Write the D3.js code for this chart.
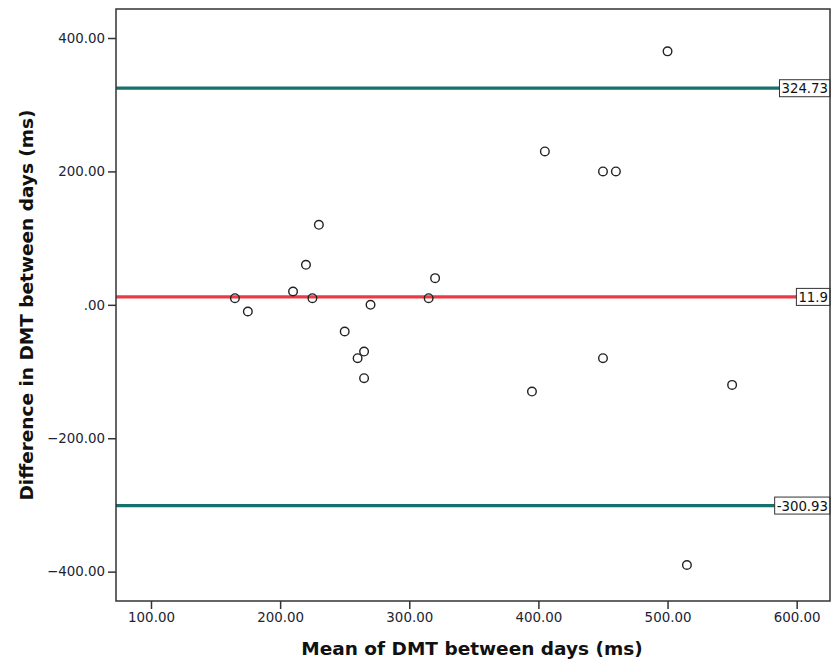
<!DOCTYPE html>
<html>
<head>
<meta charset="utf-8">
<script src="https://cdn.jsdelivr.net/npm/d3@7/dist/d3.min.js"></script>
<style>
  html, body { margin: 0; padding: 0; background: #fff; }
  svg { display: block; }
</style>
</head>
<body>
<svg id="chart" width="835" height="664"></svg>
<script>
// Bland-Altman data: mean of the two days (x) and difference between days (y), in ms
const meanValues = [165, 175, 210, 220, 225, 230, 250, 260, 265, 265, 270, 315, 320, 395, 405, 450, 460, 450, 500, 515, 550];
const diffValues = [10, -10, 20, 60, 10, 120, -40, -80, -70, -110, 0, 10, 40, -130, 230, 200, 200, -80, 380, -390, -120];

// Upper limit of agreement, mean difference, lower limit of agreement
const refValues = [324.73, 11.9, -300.93];
const refLabels = ["324.73", "11.9", "-300.93"];
const refColors = ["#17706c", "#ec3a44", "#17706c"];

const xTicks = [100, 200, 300, 400, 500, 600];
const xTickLabels = ["100.00", "200.00", "300.00", "400.00", "500.00", "600.00"];
const yTicks = [400, 200, 0, -200, -400];
const yTickLabels = ["400.00", "200.00", ".00", "\u2212200.00", "\u2212400.00"];

const xTitle = "Mean of DMT between days (ms)";
const yTitle = "Difference in DMT between days (ms)";

const svg = d3.select("#chart");
const plotLeft = 116, plotRight = 830, plotTop = 9, plotBottom = 601;

const x = d3.scaleLinear().domain([72.9, 625.8]).range([plotLeft, plotRight]);
const y = d3.scaleLinear().domain([-444, 443.5]).range([plotBottom, plotTop]);

const font = "'DejaVu Sans', Verdana, sans-serif";

// Reference lines
svg.append("g").selectAll("line")
  .data(refValues)
  .join("line")
  .attr("x1", plotLeft).attr("x2", plotRight)
  .attr("y1", d => y(d)).attr("y2", d => y(d))
  .attr("stroke", (d, i) => refColors[i])
  .attr("stroke-width", 3.2);

// Points
svg.append("g").selectAll("circle")
  .data(meanValues.map((m, i) => [m, diffValues[i]]))
  .join("circle")
  .attr("cx", d => x(d[0]))
  .attr("cy", d => y(d[1]))
  .attr("r", 4.3)
  .attr("fill", "none")
  .attr("stroke", "#222")
  .attr("stroke-width", 1.4);

// Value boxes at the right end of each reference line
const boxes = svg.append("g");
refValues.forEach((v, i) => {
  const g = boxes.append("g");
  const t = g.append("text")
    .attr("x", plotRight - 2)
    .attr("y", y(v) + 5)
    .attr("text-anchor", "end")
    .attr("font-family", font)
    .attr("font-size", 13.3)
    .attr("fill", "#111")
    .text(refLabels[i]);
  const bb = t.node().getBBox();
  g.insert("rect", "text")
    .attr("x", bb.x - 2)
    .attr("y", y(v) - 8.5)
    .attr("width", plotRight - (bb.x - 2))
    .attr("height", 17)
    .attr("fill", "#fff")
    .attr("stroke", "#333")
    .attr("stroke-width", 1);
});

// Frame
svg.append("rect")
  .attr("x", plotLeft).attr("y", plotTop)
  .attr("width", plotRight - plotLeft).attr("height", plotBottom - plotTop)
  .attr("fill", "none")
  .attr("stroke", "#333")
  .attr("stroke-width", 1.5);

// Axes
const xAxis = d3.axisBottom(x)
  .tickValues(xTicks)
  .tickFormat((d, i) => xTickLabels[i])
  .tickSize(8).tickSizeOuter(0).tickPadding(3);
const yAxis = d3.axisLeft(y)
  .tickValues(yTicks)
  .tickFormat((d, i) => yTickLabels[i])
  .tickSize(8).tickSizeOuter(0).tickPadding(3);

const gx = svg.append("g").attr("transform", `translate(0,${plotBottom})`).call(xAxis);
const gy = svg.append("g").attr("transform", `translate(${plotLeft},0)`).call(yAxis);
[gx, gy].forEach(g => {
  g.select(".domain").remove();
  g.selectAll(".tick line").attr("stroke", "#333").attr("stroke-width", 1.5);
  g.selectAll(".tick text")
    .attr("font-family", font)
    .attr("font-size", 13.4)
    .attr("fill", "#1a2433");
});

// Axis titles
svg.append("text")
  .attr("x", 472)
  .attr("y", 655)
  .attr("text-anchor", "middle")
  .attr("font-family", font)
  .attr("font-weight", "bold")
  .attr("font-size", 18.5)
  .attr("fill", "#111")
  .text(xTitle);

svg.append("text")
  .attr("transform", `translate(33,${(plotTop + plotBottom) / 2}) rotate(-90)`)
  .attr("text-anchor", "middle")
  .attr("font-family", font)
  .attr("font-weight", "bold")
  .attr("font-size", 18.5)
  .attr("fill", "#111")
  .text(yTitle);
</script>
</body>
</html>
